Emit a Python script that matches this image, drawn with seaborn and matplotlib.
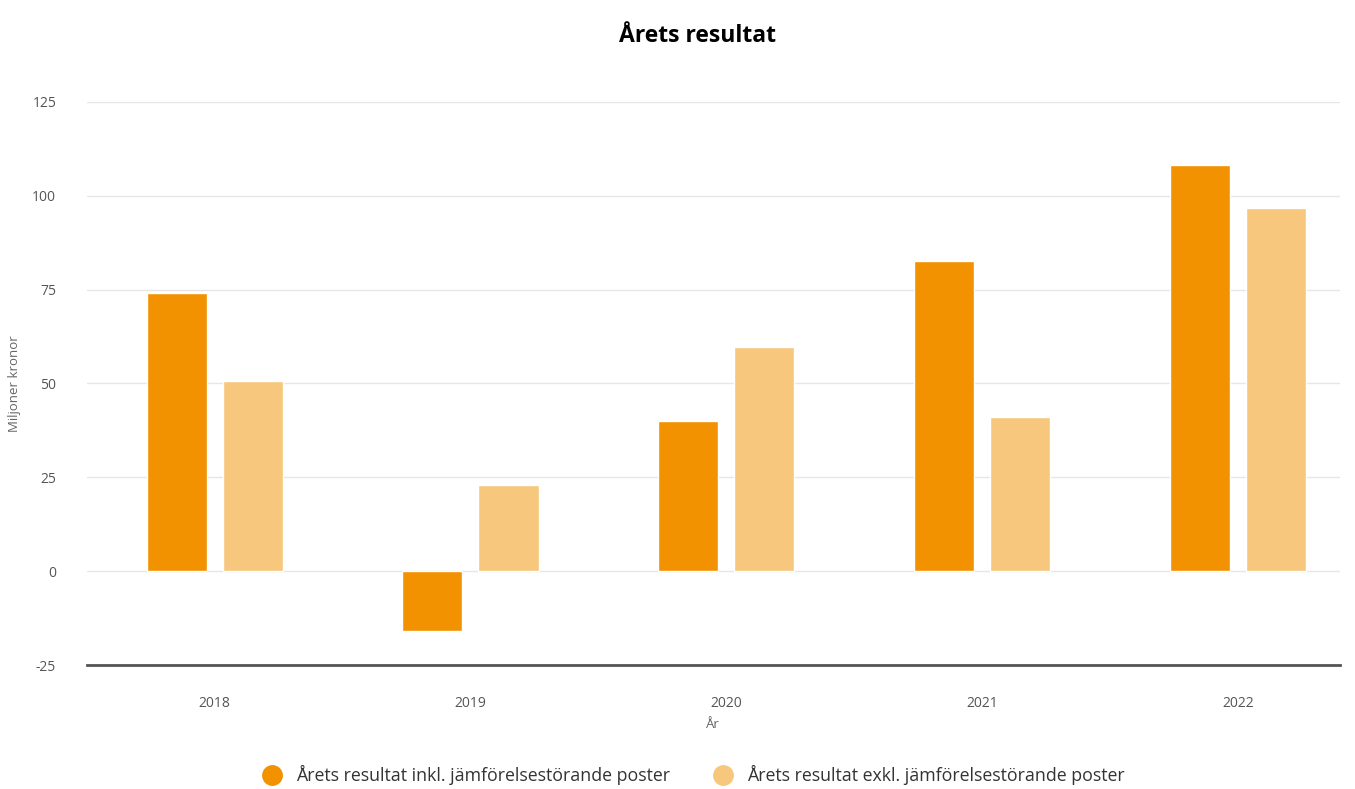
import pandas as pd
import seaborn as sns
import matplotlib.pyplot as plt
from matplotlib.lines import Line2D

# Data
years = ['2018', '2019', '2020', '2021', '2022']
inkl = [74.1, -16.0, 40.0, 82.6, 108.2]
exkl = [50.6, 22.9, 59.7, 41.0, 96.7]
series = ['Årets resultat inkl. jämförelsestörande poster',
          'Årets resultat exkl. jämförelsestörande poster']
colors = ['#F39200', '#F7C77E']

df = pd.DataFrame({
    'år': years * 2,
    'värde': inkl + exkl,
    'serie': [series[0]] * 5 + [series[1]] * 5,
})

sns.set_style('white')
plt.rcParams['font.family'] = ['Open Sans', 'DejaVu Sans']
plt.rcParams['axes.unicode_minus'] = False

fig = plt.figure(figsize=(13.55, 7.89), dpi=100)
ax = fig.add_axes([0.064, 0.157, 0.925, 0.714])

sns.barplot(data=df, x='år', y='värde', hue='serie', palette=colors,
            width=0.595, gap=0.21, ax=ax, legend=False, saturation=1)

ax.set_ylim(-25, 125)
ax.set_xlim(-0.5, 4.4)
ax.set_yticks([-25, 0, 25, 50, 75, 100, 125])
ax.yaxis.grid(True, color='#e6e6e6', linewidth=1)
ax.set_axisbelow(True)
for s in ['top', 'right', 'left']:
    ax.spines[s].set_visible(False)
ax.spines['bottom'].set_color('#555555')
ax.spines['bottom'].set_linewidth(2)
ax.tick_params(axis='both', length=0, labelsize=10, colors='#555555')
ax.tick_params(axis='x', pad=22)
ax.tick_params(axis='y', pad=22)

ax.set_xlabel('År', fontsize=9.5, color='#666666', labelpad=5)
ax.set_ylabel('Miljoner kronor', fontsize=9.5, color='#666666', labelpad=8)

fig.suptitle('Årets resultat', fontsize=16.5, fontweight='bold', color='black',
             x=0.515, y=0.97)

handles = [Line2D([], [], marker='o', linestyle='', markersize=14,
                  markerfacecolor=c, markeredgecolor=c) for c in colors]
fig.legend(handles, series, loc='lower center', ncol=2, frameon=False,
           bbox_to_anchor=(0.509, -0.015), fontsize=12.8, handletextpad=0.35,
           columnspacing=2.0, labelcolor='#333333')

fig.savefig('out.png', dpi=100)
